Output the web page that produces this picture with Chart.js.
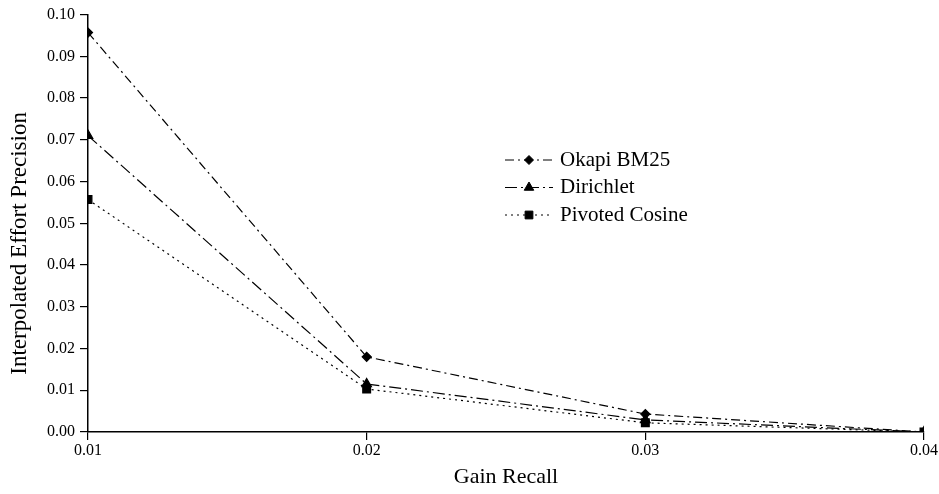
<!DOCTYPE html>
<html>
<head>
<meta charset="utf-8">
<script src="https://cdn.jsdelivr.net/npm/chart.js@4.4.1/dist/chart.umd.min.js"></script>
<style>
  html, body { margin: 0; padding: 0; background: #fff; }
  #wrap { width: 939px; height: 494px; position: relative; }
</style>
</head>
<body>
<div id="wrap"><canvas id="chart"></canvas></div>
<script>
// Values
const recall = [0.01, 0.02, 0.03, 0.04];
const okapi = [0.0957, 0.0180, 0.0043, 0.0000];
const dirichlet = [0.0710, 0.0115, 0.0029, 0.0000];
const pivoted = [0.0557, 0.0103, 0.0022, 0.0000];
const seriesNames = ['Okapi BM25', 'Dirichlet', 'Pivoted Cosine'];

const FONT = '"Liberation Serif", "Times New Roman", serif';

const toPoints = (ys) => recall.map((x, i) => ({ x: x, y: ys[i] }));

// Legend drawn inside the plot area, like the original figure
const innerLegend = {
  id: 'innerLegend',
  afterDraw(chart) {
    const ctx = chart.ctx;
    const x0 = 505, y0 = 160, rowH = 27.5;
    ctx.save();
    chart.data.datasets.forEach((ds, i) => {
      const y = y0 + i * rowH;
      ctx.strokeStyle = '#000';
      ctx.lineWidth = 1;
      ctx.setLineDash(ds.borderDash);
      ctx.beginPath();
      ctx.moveTo(x0, y);
      ctx.lineTo(x0 + 48, y);
      ctx.stroke();
      ctx.setLineDash([]);
      Chart.helpers.drawPoint(ctx, {
        pointStyle: ds.pointStyle,
        radius: ds.pointRadius,
        borderWidth: 1
      }, x0 + 24, y);
      ctx.fillStyle = '#000';
      ctx.font = '21px ' + FONT;
      ctx.textBaseline = 'middle';
      ctx.fillText(ds.label, x0 + 55, y);
    });
    ctx.restore();
  }
};

new Chart(document.getElementById('chart'), {
  type: 'line',
  data: {
    datasets: [
      {
        label: seriesNames[0],
        data: toPoints(okapi),
        borderColor: '#000',
        backgroundColor: '#000',
        borderWidth: 1.2,
        borderDash: [9, 4, 2, 4],
        pointStyle: 'rectRot',
        pointRadius: 4.5
      },
      {
        label: seriesNames[1],
        data: toPoints(dirichlet),
        borderColor: '#000',
        backgroundColor: '#000',
        borderWidth: 1.2,
        borderDash: [12, 4, 2, 4],
        pointStyle: 'triangle',
        pointRadius: 5.5
      },
      {
        label: seriesNames[2],
        data: toPoints(pivoted),
        borderColor: '#000',
        backgroundColor: '#000',
        borderWidth: 1.2,
        borderDash: [2, 4],
        pointStyle: 'rect',
        pointRadius: 5.5
      }
    ]
  },
  options: {
    responsive: true,
    maintainAspectRatio: false,
    animation: false,
    layout: { padding: { left: 0, top: 14, right: 15, bottom: 0 } },
    plugins: {
      legend: { display: false },
      tooltip: { enabled: false }
    },
    scales: {
      x: {
        type: 'linear',
        min: 0.01,
        max: 0.04,
        border: { color: '#000', width: 1.5 },
        grid: { drawOnChartArea: false, drawTicks: true, tickLength: 8, color: '#000', lineWidth: 1.2 },
        ticks: {
          stepSize: 0.01,
          color: '#000',
          font: { family: FONT, size: 16 },
          padding: 1,
          maxRotation: 0,
          callback: (v) => v.toFixed(2)
        },
        title: {
          display: true,
          text: 'Gain Recall',
          color: '#000',
          font: { family: FONT, size: 22 },
          padding: { top: 4 }
        },
        afterFit: (scale) => { scale.height = 62; }
      },
      y: {
        min: 0,
        max: 0.10,
        border: { color: '#000', width: 1.5 },
        grid: { drawOnChartArea: false, drawTicks: true, tickLength: 8, color: '#000', lineWidth: 1.2 },
        ticks: {
          stepSize: 0.01,
          color: '#000',
          font: { family: FONT, size: 16 },
          padding: 5,
          callback: (v) => v.toFixed(2)
        },
        title: {
          display: true,
          // trailing spaces nudge the title down, as in the original
          text: 'Interpolated Effort Precision\u00a0\u00a0\u00a0\u00a0\u00a0\u00a0\u00a0',
          color: '#000',
          font: { family: FONT, size: 23 },
          padding: { top: 6, bottom: 0 }
        },
        afterFit: (scale) => { scale.width = 88; }
      }
    }
  },
  plugins: [innerLegend]
});
</script>
</body>
</html>
